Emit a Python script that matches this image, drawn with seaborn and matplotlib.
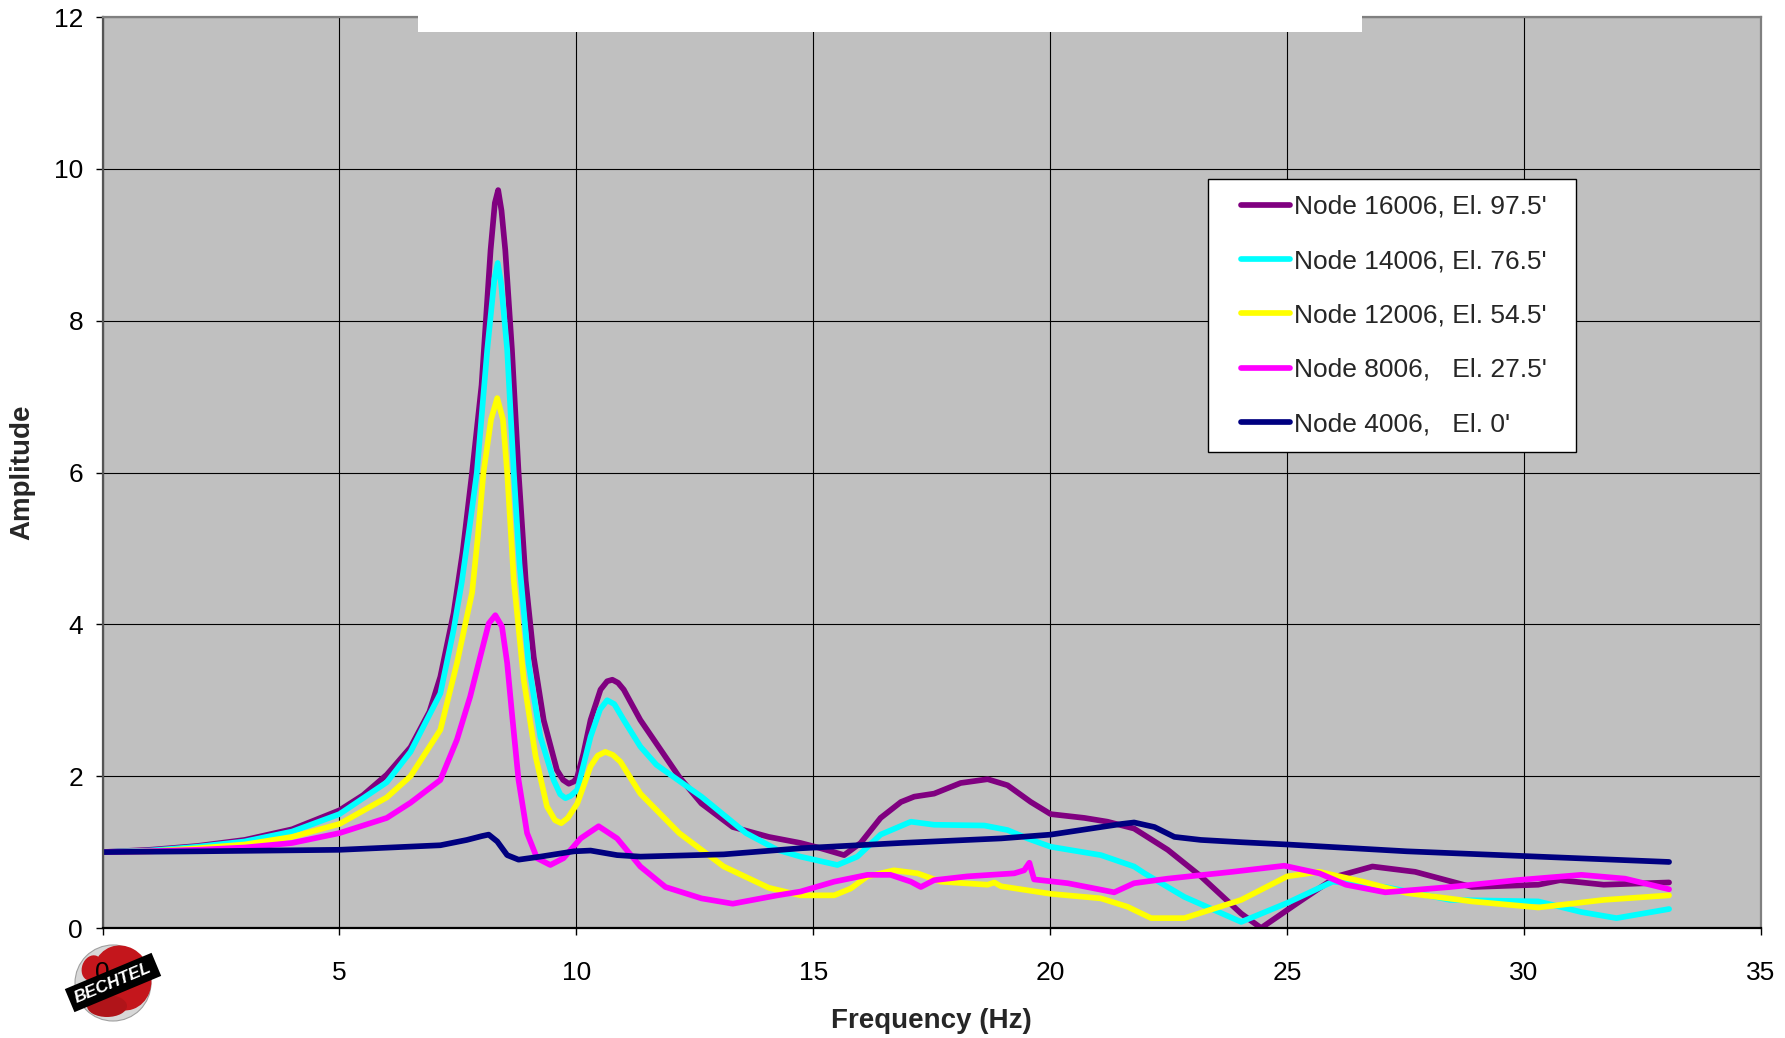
import matplotlib
matplotlib.use("Agg")
import matplotlib.pyplot as plt
import numpy as np
import pandas as pd
import seaborn as sns
from matplotlib.legend_handler import HandlerLine2D
from matplotlib.lines import Line2D
from matplotlib.patches import Circle, Rectangle, Ellipse

# ---- data -----------------------------------------------------------------
node_labels = [
    "Node 16006, El. 97.5'",
    "Node 14006, El. 76.5'",
    "Node 12006, El. 54.5'",
    "Node 8006,   El. 27.5'",
    "Node 4006,   El. 0'",
]
node_colors = ["#800080", "#00FFFF", "#FFFF00", "#FF00FF", "#000080"]

freq_16006 = [0, 1, 2, 3, 4, 5, 5.5, 6.0, 6.5, 6.9, 7.13, 7.41, 7.6, 7.8, 8.0, 8.19, 8.28,
              8.35, 8.42, 8.5, 8.64, 8.78, 8.93, 9.1, 9.31, 9.59, 9.72, 9.84, 9.95, 10.02,
              10.15, 10.3, 10.51, 10.65, 10.76, 10.88, 11.0, 11.35, 11.7, 12.17, 12.64,
              13.3, 14.06, 14.73, 15.16, 15.65, 16.0, 16.42, 16.85, 17.13, 17.55, 18.11,
              18.68, 19.1, 19.59, 20.01, 20.72, 21.21, 21.77, 22.48, 23.18, 24.03, 24.45,
              25.22, 26.05, 26.8, 27.7, 28.9, 30.3, 30.76, 31.68, 33.06]
amp_16006 = [1.0, 1.03, 1.08, 1.16, 1.3, 1.55, 1.75, 2.02, 2.38, 2.85, 3.31, 4.15, 4.95,
             6.0, 7.15, 8.93, 9.55, 9.72, 9.45, 8.93, 7.62, 6.0, 4.58, 3.57, 2.74, 2.08,
             1.95, 1.90, 1.93, 1.99, 2.3, 2.74, 3.14, 3.25, 3.27, 3.23, 3.14, 2.74, 2.42,
             1.99, 1.64, 1.33, 1.2, 1.12, 1.05, 0.96, 1.12, 1.45, 1.66, 1.73, 1.77, 1.91,
             1.96, 1.88, 1.66, 1.50, 1.45, 1.40, 1.31, 1.03, 0.68, 0.19, 0.0, 0.33, 0.68,
             0.81, 0.74, 0.54, 0.57, 0.63, 0.57, 0.60]

freq_14006 = [0, 1, 2, 3, 4, 5, 6, 6.5, 7.13, 7.41, 7.58, 7.75, 7.9, 8.12, 8.27, 8.34,
              8.41, 8.54, 8.68, 8.8, 8.99, 9.24, 9.52, 9.66, 9.77, 9.88, 10.02, 10.3, 10.5,
              10.65, 10.8, 11.0, 11.35, 11.69, 12.64, 13.58, 14.24, 14.73, 15.51, 15.93,
              16.42, 17.06, 17.55, 18.61, 19.1, 19.52, 20.01, 21.07, 21.77, 21.99, 22.83,
              24.03, 25.0, 25.96, 27.07, 28.44, 30.3, 31.21, 31.95, 33.06]
amp_14006 = [1.0, 1.02, 1.07, 1.14, 1.27, 1.5, 1.92, 2.32, 3.09, 3.93, 4.55, 5.3, 6.0,
             7.62, 8.55, 8.76, 8.5, 7.62, 6.0, 4.8, 3.49, 2.52, 1.95, 1.76, 1.71, 1.74,
             1.82, 2.52, 2.88, 3.0, 2.95, 2.74, 2.39, 2.15, 1.73, 1.25, 1.03, 0.94, 0.83,
             0.94, 1.23, 1.40, 1.36, 1.35, 1.29, 1.18, 1.07, 0.96, 0.81, 0.72, 0.41, 0.08,
             0.33, 0.61, 0.54, 0.37, 0.35, 0.21, 0.13, 0.25]

freq_12006 = [0, 1, 2, 3, 4, 5, 6, 6.5, 7.13, 7.48, 7.8, 7.92, 8.04, 8.2, 8.33, 8.45, 8.54,
              8.68, 8.89, 9.14, 9.38, 9.55, 9.68, 9.82, 10.02, 10.3, 10.45, 10.61, 10.77,
              10.93, 11.35, 12.17, 13.11, 14.06, 14.73, 15.44, 15.79, 16.14, 16.7, 17.2,
              17.69, 18.68, 18.82, 18.96, 20.01, 21.07, 21.63, 22.13, 22.83, 24.03, 25.0,
              25.68, 26.6, 27.53, 28.9, 30.3, 31.68, 33.06]
amp_12006 = [1.0, 1.01, 1.05, 1.1, 1.2, 1.37, 1.72, 2.0, 2.61, 3.49, 4.42, 5.15, 6.0, 6.7,
             6.98, 6.7, 6.0, 4.58, 3.27, 2.26, 1.6, 1.42, 1.38, 1.45, 1.64, 2.13, 2.27,
             2.32, 2.28, 2.19, 1.77, 1.25, 0.81, 0.53, 0.43, 0.43, 0.52, 0.68, 0.76, 0.72,
             0.61, 0.57, 0.60, 0.55, 0.45, 0.39, 0.28, 0.13, 0.13, 0.37, 0.68, 0.74, 0.61,
             0.46, 0.35, 0.27, 0.37, 0.43]

freq_8006 = [0, 1, 2, 3, 4, 5, 6, 6.5, 7.13, 7.48, 7.76, 7.97, 8.15, 8.29, 8.43, 8.54,
             8.64, 8.78, 8.96, 9.17, 9.45, 9.73, 10.09, 10.47, 10.86, 11.35, 11.88, 12.64,
             13.3, 14.24, 14.73, 15.44, 16.14, 16.63, 17.06, 17.27, 17.55, 18.25, 19.24,
             19.45, 19.56, 19.66, 20.37, 21.35, 21.77, 22.48, 23.84, 24.94, 25.68, 26.24,
             27.07, 28.44, 29.84, 31.21, 32.13, 33.06]
amp_8006 = [1.0, 1.01, 1.03, 1.06, 1.12, 1.25, 1.45, 1.65, 1.95, 2.48, 3.05, 3.57, 4.01,
            4.12, 3.97, 3.49, 2.83, 1.95, 1.25, 0.92, 0.83, 0.92, 1.18, 1.34, 1.18, 0.81,
            0.54, 0.39, 0.32, 0.43, 0.48, 0.61, 0.70, 0.70, 0.61, 0.54, 0.63, 0.68, 0.72,
            0.76, 0.86, 0.64, 0.59, 0.47, 0.59, 0.65, 0.74, 0.82, 0.72, 0.57, 0.47, 0.54,
            0.63, 0.70, 0.65, 0.51]

freq_4006 = [0, 2, 5, 7.13, 7.69, 8.0, 8.15, 8.33, 8.54, 8.78, 9.24, 9.95, 10.3, 10.86,
             11.35, 13.11, 14.73, 16.85, 18.96, 20.01, 21.07, 21.5, 21.77, 22.2, 22.62,
             23.18, 24.03, 25.0, 27.53, 30.3, 33.06]
amp_4006 = [1.0, 1.01, 1.03, 1.09, 1.16, 1.21, 1.23, 1.14, 0.96, 0.90, 0.94, 1.01, 1.02,
            0.96, 0.94, 0.97, 1.05, 1.12, 1.18, 1.23, 1.33, 1.37, 1.39, 1.33, 1.20, 1.16,
            1.13, 1.10, 1.01, 0.94, 0.87]

x_ticks = [0, 5, 10, 15, 20, 25, 30, 35]
y_ticks = [0, 2, 4, 6, 8, 10, 12]

series = [(freq_16006, amp_16006), (freq_14006, amp_14006), (freq_12006, amp_12006),
          (freq_8006, amp_8006), (freq_4006, amp_4006)]
df = pd.concat(
    [pd.DataFrame({"Frequency": f, "Amplitude": a, "Node": lab})
     for (f, a), lab in zip(series, node_labels)],
    ignore_index=True,
)

# ---- style ----------------------------------------------------------------
sns.set_style("ticks")
plt.rcParams["font.family"] = ["Liberation Sans", "DejaVu Sans"]

W, H = 1785, 1038
LW = 4.1
fig = plt.figure(figsize=(W / 100, H / 100), dpi=100)
fig.patch.set_facecolor("white")

ax = fig.add_axes([102.5 / W, 1 - 928 / H, (1761 - 102.5) / W, (928 - 17) / H])
ax.set_facecolor("#C0C0C0")

sns.lineplot(data=df, x="Frequency", y="Amplitude", hue="Node", hue_order=node_labels,
             palette=node_colors, estimator=None, sort=False, linewidth=LW,
             legend=False, ax=ax, solid_joinstyle="round", solid_capstyle="round")

ax.set_xlim(0, 35)
ax.set_ylim(0, 12)
ax.set_xticks(x_ticks)
ax.set_yticks(y_ticks)
ax.set_xticklabels([str(t) for t in x_ticks])
ax.set_yticklabels([str(t) for t in y_ticks])
ax.grid(True, color="black", linewidth=0.8)
ax.set_axisbelow(True)
ax.tick_params(axis="both", direction="out", length=5, width=1, colors="black",
               labelsize=19)
ax.tick_params(axis="x", pad=19)
ax.tick_params(axis="y", pad=9)

for side in ["top", "right"]:
    ax.spines[side].set_color("#808080")
    ax.spines[side].set_linewidth(1.6)
ax.spines["left"].set_color("#555555")
ax.spines["left"].set_linewidth(1.6)
ax.spines["bottom"].set_color("black")
ax.spines["bottom"].set_linewidth(1.6)

ax.set_xlabel("Frequency (Hz)", fontsize=20, fontweight="bold", labelpad=16.5)
ax.set_ylabel("Amplitude", fontsize=20, fontweight="bold", labelpad=13.5)

# ---- legend ---------------------------------------------------------------
handles = [Line2D([], [], color=c, linewidth=LW, solid_capstyle="round")
           for c in node_colors]
leg = ax.legend(handles, node_labels, loc="upper left",
                bbox_to_anchor=(1208 / W, 1 - 179 / H, 368 / W, 0),
                bbox_transform=fig.transFigure, mode="expand", borderaxespad=0,
                borderpad=0.6, labelspacing=1.15, handlelength=2.5,
                handletextpad=0.15, fontsize=19, fancybox=False, framealpha=1,
                handler_map={Line2D: HandlerLine2D(xpad=0.64)})
leg.get_frame().set_edgecolor("black")
leg.get_frame().set_linewidth(1.0)
leg.get_frame().set_facecolor("white")

# blank title block over the top edge of the plot area
fig.patches.append(Rectangle((418 / W, 1 - 32 / H), (1362 - 418) / W, 32 / H + 0.01,
                             transform=fig.transFigure, facecolor="white",
                             edgecolor="none", zorder=10))

# ---- company badge ----------------------------------------------------------
lax = fig.add_axes([62 / W, 1 - 1030 / H, 104 / W, 92 / H], zorder=-1)
lax.set_xlim(0, 104)
lax.set_ylim(0, 92)
lax.set_aspect("equal")
lax.axis("off")
lax.add_patch(Circle((51, 47), 38, facecolor="#D8D8D8", edgecolor="#A0A0A0", lw=0.8))
lax.add_patch(Ellipse((60, 52), 58, 66, angle=20, facecolor="#C4161C", edgecolor="none"))
lax.add_patch(Ellipse((30, 62), 20, 26, angle=-20, facecolor="#C4161C", edgecolor="none"))
lax.add_patch(Ellipse((45, 24), 40, 22, angle=0, facecolor="#B01419", edgecolor="none"))
lax.add_patch(Rectangle((4, 35), 94, 25, angle=22.7, rotation_point="center",
                        facecolor="black", edgecolor="none"))
lax.text(51, 47, "BECHTEL", color="white", fontsize=12.5, fontweight="bold",
         fontstyle="italic", rotation=22.7, ha="center", va="center",
         rotation_mode="anchor")

fig.savefig("out.png", dpi=100, facecolor="white")
